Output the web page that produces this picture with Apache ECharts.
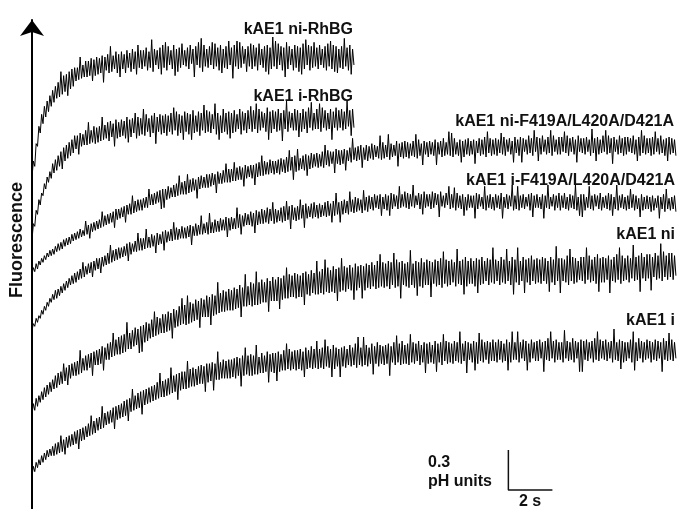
<!DOCTYPE html>
<html>
<head>
<meta charset="utf-8">
<script src="https://cdn.jsdelivr.net/npm/echarts@6/dist/echarts.min.js"></script>
<style>
html,body{margin:0;padding:0;background:#fff;}
#chart{width:677px;height:509px;}
</style>
</head>
<body>
<div id="chart"></div>
<script>
// time axis: seconds (one sample every 1/16 s); fluorescence: 0.01 pH units (arbitrary offset)
var sampleStep = 0.0625;
var traceNames = ['kAE1 ni-RhBG','kAE1 i-RhBG','kAE1 ni-F419A/L420A/D421A','kAE1 i-F419A/L420A/D421A','kAE1 ni','kAE1 i'];

var niRhBG = [
249,261,257,274,272,287,282,296,289,302,294,306,298,310,302,314,
305,317,308,320,309,328,311,325,313,326,310,328,315,330,317,331,
321,331,322,339,323,333,324,336,324,336,325,338,321,337,325,339,
326,338,327,340,320,339,329,341,327,347,328,340,330,343,327,341,
324,343,330,341,327,344,331,342,328,345,330,343,326,348,331,344,
330,344,332,346,329,343,331,352,328,345,333,344,330,346,326,348,
331,350,329,347,333,344,330,348,325,345,328,346,331,349,333,344,
332,346,330,348,334,345,324,347,333,350,331,353,328,348,332,345,
331,347,333,350,330,349,332,346,329,348,327,345,331,347,330,351,
333,346,323,348,332,351,330,350,331,347,334,345,328,347,332,349,
330,348,332,346,329,349,333,345,331,347,328,348,326,346,330,354,
332,351,330,349,333,347,329,346,324,350,330,347,333,345,329,348,
331,347,328,346,326,349,330,352,333,348,329,347,331,350,332,346,
330,348,333,345,331,347,329,349,332,351,330,348,328,347,327,345,
331,347,330,353,332,346,329,348,326,345,333];

var iRhBG = [
202,214,212,224,221,232,228,237,235,244,240,249,245,253,248,259,
252,262,254,265,257,268,255,271,261,273,263,275,265,277,267,280,
270,280,266,282,272,281,273,284,273,290,274,284,275,287,274,286,
275,287,276,294,277,288,278,290,276,291,279,289,272,292,278,290,
279,292,280,291,278,294,275,292,279,293,282,297,278,294,280,293,
281,300,280,296,283,293,279,295,282,297,274,294,283,296,281,295,
282,296,280,295,283,297,281,301,284,298,280,296,282,295,277,298,
283,297,281,296,277,299,282,295,283,298,280,297,284,303,282,299,
283,298,282,296,285,304,281,297,277,295,282,300,283,297,281,298,
278,297,282,299,283,296,285,300,281,298,284,297,282,299,285,302,
283,299,285,304,282,300,284,298,286,297,283,301,277,298,282,299,
285,298,283,300,284,297,276,299,285,306,283,298,286,297,284,300,
284,299,279,297,283,300,285,298,282,301,286,305,284,297,285,300,
285,304,283,301,286,299,284,297,285,300,277,298,286,301,284,299,
286,300,284,298,285,306,287,299,280,300,286];

var niMutant = [
176,181,178,184,180,186,183,188,185,190,187,192,189,194,190,195,
191,197,193,199,194,200,195,202,197,203,198,204,199,206,201,207,
202,208,203,210,204,209,205,216,206,213,203,214,208,215,209,216,
210,217,211,223,212,220,213,221,214,222,215,223,211,225,217,225,
218,226,219,227,215,228,221,229,221,235,222,231,223,232,224,232,
224,233,226,234,226,240,228,236,228,237,229,238,230,239,225,240,
226,240,232,242,233,241,234,243,234,244,235,250,236,245,236,246,
236,251,237,247,238,248,239,247,233,249,240,250,241,249,241,251,
241,251,242,252,243,251,237,253,244,252,244,254,245,259,245,255,
245,255,246,260,246,256,247,257,247,256,242,258,248,257,249,258,
248,258,243,259,249,260,250,265,250,261,251,260,251,262,252,261,
251,261,252,262,251,263,253,262,252,264,253,269,254,264,247,265,
253,270,254,263,255,265,254,266,250,265,255,267,256,266,257,267,
256,266,257,268,256,273,258,269,257,268,259,268,252,270,259,269,
258,269,259,270,254,269,261,271,260,278,262,271,261,272,262,273,
256,271,262,273,261,272,263,274,262,273,264,272,263,280,262,275,
263,273,264,281,262,274,264,273,265,276,257,274,264,275,263,276,
264,275,263,274,265,276,264,281,263,277,265,274,258,276,266,275,
264,276,266,275,265,277,258,275,266,276,264,278,265,275,266,283,
265,282,264,278,266,275,265,277,260,276,264,277,266,278,265,276,
266,277,259,276,267,278,265,277,266,279,264,283,267,278,265,277,
266,278,265,277,267,282,266,279,265,277,268,278,266,276,260,279,
267,277,265,279,260,278,268,277,266,280,267,278,265,284,268,279,
261,278,266,280,268,277,266,279,267,284,265,280,268,277,266,279,
266,279,268,283,267,280,265,278,268,279,266,277,260,280,268,278,
267,278,266,279,268,277,265,285,267,278,261,279,266,277,267,280,
268,284,266,280,267,278,259,279,268,277,266,280,267,278,265,279,
266,279,268,278,267,280,266,277,261,279,265,284,267,280,266,278,
267,278,265,279,266,283,268,278,266,280,267,277,265,278,261,279,
266,278,267,277,265];

var iMutant = [
134,139,137,143,140,145,143,149,146,152,149,155,152,158,155,161,
157,164,158,165,160,167,162,169,164,171,166,173,168,175,169,177,
170,178,172,180,173,185,174,182,176,184,177,185,174,186,179,188,
180,188,177,189,182,190,183,192,184,198,185,194,186,195,187,196,
188,196,189,197,190,199,186,200,191,199,193,201,193,207,194,203,
194,203,195,210,196,204,196,206,197,205,192,207,198,206,199,208,
194,209,200,208,201,210,201,215,202,211,202,210,203,212,203,211,
203,212,204,213,198,212,205,214,205,213,206,220,206,214,207,215,
206,222,207,215,207,217,208,216,208,218,209,217,209,219,204,218,
209,219,210,218,210,226,211,221,206,220,212,222,213,221,213,223,
212,222,207,224,213,223,214,225,214,224,215,226,214,225,216,230,
214,225,215,224,216,226,215,227,216,231,217,227,210,228,217,226,
216,227,217,232,218,228,211,229,218,227,219,229,218,230,219,228,
218,229,219,228,220,230,219,231,220,229,215,231,220,237,221,230,
215,231,221,232,222,231,221,238,223,232,222,234,223,233,224,232,
222,239,224,234,223,235,225,234,224,236,226,235,225,236,220,234,
225,236,224,235,220,237,225,236,227,235,225,242,226,236,227,238,
226,237,225,236,227,243,226,235,228,237,225,236,221,238,226,236,
227,236,225,238,226,237,228,236,219,238,227,235,226,237,228,242,
225,236,226,241,224,237,226,235,225,236,220,234,224,236,226,235,
226,235,218,237,225,236,227,234,225,242,224,235,226,236,225,234,
224,236,226,235,225,237,218,234,226,236,225,235,227,243,224,235,
225,242,224,235,226,236,225,234,227,236,224,237,219,235,226,236,
226,234,225,236,218,235,226,243,225,234,227,236,224,235,226,237,
224,235,226,237,225,234,224,236,226,235,225,243,224,234,220,236,
219,236,224,234,226,242,225,235,224,236,227,235,225,237,224,234,
226,235,225,237,224,236,220,234,225,243,224,235,226,236,225,234,
224,235,225,240,226,236,224,235,225,233,219,236,224,234,225,235,
225,234,223,235,224,233,226,235,218,234,225,236,223,240,225,233,
224,234,225,235,223];

var niWild = [
71,79,74,83,77,85,80,88,82,91,84,93,86,95,88,97,
90,100,91,102,93,103,94,109,96,106,93,108,98,109,100,110,
100,111,101,119,102,113,104,115,104,116,106,117,100,118,108,119,
108,120,109,122,104,121,112,124,112,125,114,132,115,127,116,129,
116,130,117,131,118,140,120,132,120,134,122,136,123,135,117,137,
118,138,125,140,126,139,128,142,129,148,130,144,131,143,132,146,
132,146,133,148,134,147,128,150,136,149,137,152,138,158,139,153,
138,160,139,155,140,154,141,157,142,156,136,158,144,157,144,160,
144,159,138,161,145,160,146,170,147,162,148,164,148,163,149,165,
149,164,149,166,150,165,151,168,144,166,152,176,152,167,153,170,
152,169,153,178,153,170,154,172,155,170,155,173,148,171,156,174,
156,172,156,174,150,173,157,175,158,181,158,176,159,175,159,177,
158,176,159,175,159,177,153,178,161,176,160,179,162,177,161,186,
161,178,162,180,161,187,163,181,162,179,163,182,162,180,156,181,
163,188,164,182,163,181,165,183,164,181,157,184,164,182,166,183,
158,182,164,184,166,183,165,185,167,183,165,186,166,191,167,185,
166,184,167,186,165,185,168,192,166,187,167,185,158,186,168,184,
167,185,166,194,168,184,166,186,160,185,167,188,166,185,168,187,
168,186,159,185,169,187,167,186,168,188,166,193,169,187,167,186,
168,187,170,185,167,195,169,186,168,187,161,189,167,186,169,188,
169,186,167,188,162,187,168,189,169,186,171,188,168,187,170,196,
169,187,171,186,168,189,170,187,169,195,171,186,168,189,161,187,
170,196,168,186,171,189,162,187,170,188,168,190,171,187,169,188,
170,187,169,189,171,188,169,186,163,189,170,187,168,197,171,188,
162,188,171,187,170,190,168,195,171,189,169,188,170,186,172,189,
171,189,169,196,172,190,170,187,171,189,169,191,163,188,170,189,
170,188,172,190,162,187,171,189,170,191,172,196,169,190,171,188,
172,190,170,188,173,198,171,189,172,190,163,192,173,189,171,191,
173,191,164,189,174,192,172,190,173,199,171,193,174,190,172,192,
174,192,172,190,175];

var iWild = [
25,32,28,35,31,37,33,40,35,42,37,44,39,45,40,47,
40,49,41,50,42,55,43,52,41,54,46,55,47,56,48,58,
49,59,45,60,51,61,52,62,54,64,55,70,56,66,57,68,
59,69,60,77,61,72,63,73,64,74,65,76,60,77,67,78,
68,79,69,81,70,82,66,83,73,90,74,85,75,87,76,88,
71,89,78,90,79,91,80,92,81,93,82,95,83,102,84,96,
84,97,85,98,86,106,87,100,88,101,82,102,89,103,90,103,
90,111,91,105,92,106,92,105,93,107,94,108,94,107,88,109,
95,109,96,110,89,109,97,118,97,110,98,112,98,111,98,112,
98,112,99,113,98,114,100,113,92,115,100,121,101,115,100,116,
100,115,101,123,101,114,102,117,102,115,103,118,95,116,103,117,
102,117,96,118,103,116,104,119,104,124,105,120,104,118,105,119,
104,119,105,120,104,118,99,121,105,119,106,122,105,120,106,126,
105,120,106,121,105,127,107,122,106,120,99,123,105,121,107,120,
99,121,107,122,106,120,108,123,107,121,108,124,106,129,108,121,
107,129,108,123,107,121,109,124,101,122,109,125,107,123,109,122,
108,123,109,124,100,122,110,125,108,130,110,124,108,126,109,123,
109,124,108,131,110,125,109,124,111,126,108,123,110,125,102,124,
109,125,110,123,109,126,103,124,110,125,108,131,111,126,109,125,
110,124,109,126,111,125,110,133,109,124,111,126,102,125,112,124,
110,126,104,125,109,132,111,127,110,125,112,126,109,125,111,127,
111,125,110,127,112,126,110,124,111,127,104,125,110,133,112,125,
112,133,110,125,113,127,111,126,104,124,110,127,113,125,111,126,
111,127,113,125,103,126,112,128,111,133,113,126,110,127,112,125,
112,125,110,134,113,126,111,125,112,128,110,126,113,125,103,127,
103,126,112,127,111,125,113,126,110,128,112,133,111,127,113,126,
112,127,111,125,113,126,110,135,112,125,111,127,105,126,110,125,
111,125,113,127,110,133,104,125,111,128,113,126,110,125,112,127,
113,126,110,125,112,127,111,126,113,125,103,128,112,126,111,132,
112,127,111,125,113];

var scaleBarSeconds = 2;     // s
var scaleBarPH = 30;         // 0.01 pH units (0.3 pH)
var scaleBarLabels = ['0.3', 'pH units', '2 s'];
var axisLabel = 'Fluorescence';

var traces = [niRhBG, iRhBG, niMutant, iMutant, niWild, iWild];

function toSeries(vals){
  var out = [];
  for (var i = 0; i < vals.length; i++) out.push([i * sampleStep, vals[i]]);
  return out;
}

var chart = echarts.init(document.getElementById('chart'), null, {renderer:'canvas'});
var FONT = '"Liberation Sans", Arial, Helvetica, sans-serif';
var series = traces.map(function(v, k){
  return {
    type:'line', name: traceNames[k], data: toSeries(v), showSymbol:false,
    lineStyle:{width:1, color:'#000'}, animation:false, silent:true, z:2
  };
});
var sbX = 21.64, sbY = 14.25;
series.push({
  type:'line', data:[[sbX, sbY + scaleBarPH],[sbX, sbY],[sbX + scaleBarSeconds, sbY]],
  showSymbol:false, lineStyle:{width:1.5, color:'#111'}, animation:false, silent:true
});

var labelPos = [[353,30],[353,97],[674,122],[675,181],[675,235],[675,321]];
var graphics = traceNames.map(function(n, k){
  return {type:'text', x: labelPos[k][0], y: labelPos[k][1], z:10,
    style:{text:n, textAlign:'right', textVerticalAlign:'middle', font:'bold 16px ' + FONT, fill:'#111'}};
});
graphics.push({type:'text', x:17, y:240, rotation:Math.PI/2, z:10,
  style:{text:axisLabel, textAlign:'center', textVerticalAlign:'middle', font:'bold 18px ' + FONT, fill:'#111'}});
graphics.push({type:'text', x:428, y:463, z:10,
  style:{text:scaleBarLabels[0], textAlign:'left', textVerticalAlign:'middle', font:'bold 16px ' + FONT, fill:'#111'}});
graphics.push({type:'text', x:428, y:482, z:10,
  style:{text:scaleBarLabels[1], textAlign:'left', textVerticalAlign:'middle', font:'bold 16px ' + FONT, fill:'#111'}});
graphics.push({type:'text', x:530, y:502, z:10,
  style:{text:scaleBarLabels[2], textAlign:'center', textVerticalAlign:'middle', font:'bold 16px ' + FONT, fill:'#111'}});

chart.setOption({
  animation:false,
  backgroundColor:'#fff',
  grid:{left:32, right:0, top:20, bottom:0, containLabel:false},
  xAxis:{type:'value', min:0, max:29.3, show:false},
  yAxis:{type:'value', min:0, max:366.75,
    axisLine:{show:true, onZero:false, symbol:['none','arrow'], symbolSize:[18,16], lineStyle:{color:'#000', width:2}},
    axisTick:{show:false}, axisLabel:{show:false}, splitLine:{show:false}},
  series: series,
  graphic: graphics
});
</script>
</body>
</html>
